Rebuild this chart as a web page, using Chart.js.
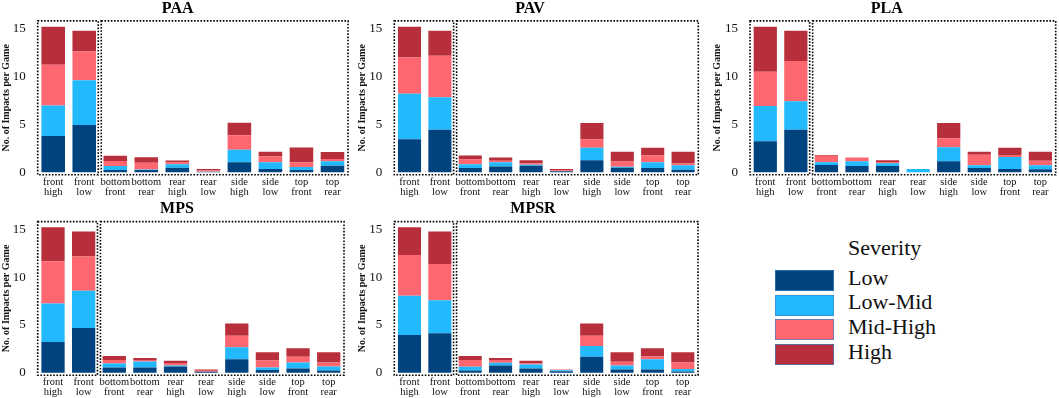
<!DOCTYPE html>
<html><head><meta charset="utf-8">
<script src="https://cdn.jsdelivr.net/npm/chart.js@4/dist/chart.umd.min.js"></script>
<style>
body{margin:0;background:#fff;width:1059px;height:398px;overflow:hidden;position:relative;font-family:"Liberation Serif",serif;}
canvas{position:absolute;}
.lg{position:absolute;font-family:"Liberation Serif",serif;font-size:22px;line-height:22px;color:#111;white-space:nowrap;left:848px}
.sw{position:absolute;left:775px;width:57px;height:19px;border:1px solid rgba(60,130,200,0.7)}
</style></head><body>
<canvas id="c0" width="352" height="198" style="left:0px;top:0px"></canvas>
<canvas id="c1" width="352" height="198" style="left:352px;top:0px"></canvas>
<canvas id="c2" width="355" height="198" style="left:704px;top:0px"></canvas>
<canvas id="c3" width="352" height="201" style="left:0px;top:197px"></canvas>
<canvas id="c4" width="352" height="201" style="left:352px;top:197px"></canvas>
<div class="lg" style="top:236.6px">Severity</div>
<div class="sw" style="top:270px;background:#01437F"></div>
<div class="sw" style="top:294.7px;background:#22BAFD"></div>
<div class="sw" style="top:319.4px;background:#FE6670"></div>
<div class="sw" style="top:344.1px;background:#B72F3B"></div>
<div class="lg" style="top:266.6px">Low</div>
<div class="lg" style="top:291.3px">Low-Mid</div>
<div class="lg" style="top:316px">Mid-High</div>
<div class="lg" style="top:340.7px">High</div>
<script>
const categories = [['front','high'],['front','low'],['bottom','front'],['bottom','rear'],['rear','high'],['rear','low'],['side','high'],['side','low'],['top','front'],['top','rear']];
const severities = ['Low','Low-Mid','Mid-High','High'];
const severityColors = ['#01437F','#22BAFD','#FE6670','#B72F3B'];
const yTicks = [0,5,10,15];

const paaLow     = [3.80, 4.95, 0.24, 0.25, 0.49, 0.03, 1.05, 0.35, 0.24, 0.70];
const paaLowMid  = [3.20, 4.70, 0.42, 0.05, 0.35, 0.02, 1.30, 0.70, 0.32, 0.45];
const paaMidHigh = [4.25, 3.00, 0.53, 0.70, 0.20, 0.15, 1.53, 0.60, 0.50, 0.25];
const paaHigh    = [4.00, 2.16, 0.55, 0.57, 0.20, 0.15, 1.30, 0.50, 1.53, 0.73];

const pavLow     = [3.45, 4.46, 0.45, 0.60, 0.70, 0.10, 1.26, 0.49, 0.45, 0.28];
const pavLowMid  = [4.78, 3.39, 0.40, 0.45, 0.10, 0.02, 1.32, 0.10, 0.60, 0.45];
const pavMidHigh = [3.80, 4.36, 0.52, 0.17, 0.14, 0.10, 0.87, 0.55, 0.70, 0.20];
const pavHigh    = [3.22, 2.61, 0.40, 0.33, 0.32, 0.13, 1.71, 1.01, 0.81, 1.22];

const plaLow     = [3.24, 4.46, 0.77, 0.66, 0.66, 0.00, 1.15, 0.45, 0.35, 0.31];
const plaLowMid  = [3.70, 2.97, 0.28, 0.49, 0.28, 0.35, 1.47, 0.28, 1.25, 0.42];
const plaMidHigh = [3.60, 4.22, 0.66, 0.39, 0.14, 0.00, 0.94, 1.12, 0.21, 0.49];
const plaHigh    = [4.71, 3.17, 0.07, 0.01, 0.18, 0.00, 1.60, 0.30, 0.75, 0.93];

const mpsLow     = [3.22, 4.69, 0.56, 0.56, 0.66, 0.10, 1.40, 0.28, 0.45, 0.24];
const mpsLowMid  = [4.05, 3.91, 0.42, 0.63, 0.11, 0.00, 1.26, 0.28, 0.63, 0.42];
const mpsMidHigh = [4.41, 3.60, 0.35, 0.14, 0.24, 0.10, 1.22, 0.73, 0.60, 0.42];
const mpsHigh    = [3.57, 2.62, 0.43, 0.22, 0.25, 0.15, 1.28, 0.86, 0.88, 1.07];

const mpsrLow     = [3.95, 4.13, 0.24, 0.77, 0.45, 0.15, 1.68, 0.35, 0.35, 0.14];
const mpsrLowMid  = [4.13, 3.46, 0.39, 0.28, 0.42, 0.10, 1.12, 0.42, 1.05, 0.24];
const mpsrMidHigh = [4.26, 3.81, 0.70, 0.28, 0.11, 0.05, 1.08, 0.38, 0.31, 0.70];
const mpsrHigh    = [2.91, 3.42, 0.43, 0.22, 0.28, 0.05, 1.28, 1.00, 0.85, 1.07];

const panels = [
  {id:'c0', title:'PAA',  series:[paaLow,paaLowMid,paaMidHigh,paaHigh],     padL:0, yw:37.7, padR:4,  padT:20.9, xh:23.2, titleX:177.7, titleY:13},
  {id:'c1', title:'PAV',  series:[pavLow,pavLowMid,pavMidHigh,pavHigh],     padL:4, yw:38.3, padR:5.7,padT:20.9, xh:23.2, titleX:178,   titleY:13},
  {id:'c2', title:'PLA',  series:[plaLow,plaLowMid,plaMidHigh,plaHigh],     padL:7.5,yw:38.5,padR:3.3,padT:20.9, xh:23.2, titleX:182.7, titleY:13},
  {id:'c3', title:'MPS',  series:[mpsLow,mpsLowMid,mpsMidHigh,mpsHigh],     padL:0, yw:37.7, padR:8,  padT:24.6, xh:22.8, titleX:177,   titleY:16.3},
  {id:'c4', title:'MPSR', series:[mpsrLow,mpsrLowMid,mpsrMidHigh,mpsrHigh], padL:4, yw:38.3, padR:6,  padT:24.6, xh:22.8, titleX:181,   titleY:16.3}
];

const panelPlugin = {
  id:'panelDecor',
  afterDraw(chart, args, opts){
    const ctx = chart.ctx, a = chart.chartArea;
    const w = (a.right - a.left) / categories.length;
    const split = a.left + w * 2;
    ctx.save();
    ctx.strokeStyle = '#000';
    ctx.lineWidth = 1.6;
    ctx.setLineDash([1.6,1.6]);
    ctx.strokeRect(a.left, a.top, split - 1.5 - a.left, a.bottom - a.top);
    ctx.strokeRect(split + 1.5, a.top, a.right - split - 1.5, a.bottom - a.top);
    ctx.setLineDash([]);
    ctx.font = 'bold 16px "Liberation Serif"';
    ctx.fillStyle = '#000';
    ctx.textAlign = 'center';
    ctx.textBaseline = 'alphabetic';
    ctx.fillText(opts.title, opts.titleX, opts.titleY);
    ctx.restore();
  }
};

panels.forEach(p => {
  new Chart(document.getElementById(p.id), {
    type:'bar',
    data:{
      labels: categories,
      datasets: p.series.map((s,i) => ({
        label: severities[i], data: s, backgroundColor: severityColors[i],
        borderWidth:0,
        barPercentage:0.76, categoryPercentage:1.0
      }))
    },
    options:{
      responsive:false, animation:false, devicePixelRatio:1,
      layout:{padding:{left:p.padL, right:p.padR, top:p.padT, bottom:0}},
      plugins:{legend:{display:false}, tooltip:{enabled:false},
        panelDecor:{title:p.title, titleX:p.titleX, titleY:p.titleY}},
      scales:{
        x:{stacked:true, grid:{display:false, drawTicks:false}, border:{display:false},
           ticks:{autoSkip:false, maxRotation:0, minRotation:0, padding:2, color:'#111',
                  font:{family:'"Liberation Serif"', size:10.5, lineHeight:0.95}},
           afterFit:(s)=>{ s.height = p.xh; }},
        y:{stacked:true, min:-0.26, max:15.85,
           grid:{display:false, drawTicks:false}, border:{display:false},
           afterBuildTicks:(s)=>{ s.ticks = yTicks.map(v=>({value:v})); },
           ticks:{padding:12, color:'#111', font:{family:'"Liberation Serif"', size:13}},
           title:{display:true, text:'No. of Impacts per Game', color:'#111', padding:0,
                  font:{family:'"Liberation Serif"', size:10, weight:'bold'}},
           afterFit:(s)=>{ s.width = p.yw; }}
      }
    },
    plugins:[panelPlugin]
  });
});
</script>
</body></html>
